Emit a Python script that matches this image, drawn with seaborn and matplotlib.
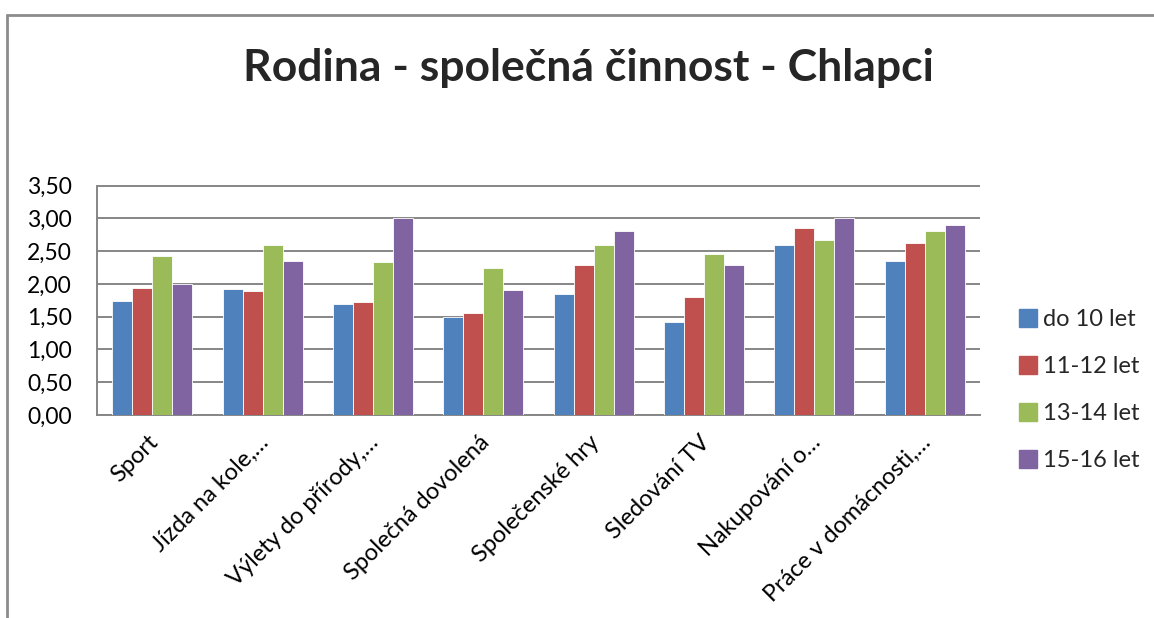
import matplotlib
matplotlib.use('Agg')

import matplotlib.pyplot as plt
import matplotlib.transforms as mtransforms
import seaborn as sns
import pandas as pd
from matplotlib.lines import Line2D
from matplotlib.ticker import FuncFormatter

categories = ['Sport', 'Jízda na kole,…', 'Výlety do přírody,…', 'Společná dovolená',
              'Společenské hry', 'Sledování TV', 'Nakupování o…', 'Práce v domácnosti,…']
groups = ['do 10 let', '11-12 let', '13-14 let', '15-16 let']
do_10 = [1.74, 1.92, 1.70, 1.50, 1.85, 1.42, 2.59, 2.35]
let_11_12 = [1.94, 1.89, 1.73, 1.55, 2.28, 1.80, 2.85, 2.62]
let_13_14 = [2.43, 2.59, 2.34, 2.24, 2.60, 2.45, 2.67, 2.80]
let_15_16 = [2.00, 2.35, 3.00, 1.90, 2.81, 2.28, 3.00, 2.90]
colors = ['#4F81BD', '#C0504D', '#9BBB59', '#8064A2']

rows = []
for g, vals in zip(groups, [do_10, let_11_12, let_13_14, let_15_16]):
    for c, v in zip(categories, vals):
        rows.append({'kategorie': c, 'skupina': g, 'hodnota': v})
df = pd.DataFrame(rows)

sns.set_style('white')
plt.rcParams['font.family'] = ['Lato', 'DejaVu Sans']

fig = plt.figure(figsize=(11.54, 6.18), dpi=100)
ax = fig.add_axes([97 / 1154, 1 - 415 / 618, (980 - 97) / 1154, (415 - 185.5) / 618])

sns.barplot(data=df, x='kategorie', y='hodnota', hue='skupina', order=categories,
            hue_order=groups, palette=colors, width=0.725, gap=0,
            edgecolor='white', linewidth=0.6, saturation=1, legend=False, ax=ax, zorder=3)

ax.set_ylim(0, 3.5)
ax.set_yticks([0, 0.5, 1.0, 1.5, 2.0, 2.5, 3.0, 3.5])
ax.yaxis.set_major_formatter(FuncFormatter(lambda v, p: f'{v:.2f}'.replace('.', ',')))
ax.set_xlim(-0.5, len(categories) - 0.5)
ax.grid(axis='y', color='#868686', linewidth=1.4, zorder=0)
ax.set_axisbelow(True)
for s in ['top', 'right']:
    ax.spines[s].set_visible(False)
for s in ['left', 'bottom']:
    ax.spines[s].set_color('#868686')
    ax.spines[s].set_linewidth(1.4)
ax.set_xlabel('')
ax.set_ylabel('')
ax.tick_params(axis='y', length=0, pad=18, labelsize=16.5, labelcolor='black')
ax.tick_params(axis='x', length=0, pad=12, labelsize=17, labelcolor='black')
shift = mtransforms.ScaledTranslation(-5 / 100, 0, fig.dpi_scale_trans)
for lbl in ax.get_xticklabels():
    lbl.set_rotation(45)
    lbl.set_ha('right')
    lbl.set_va('top')
    lbl.set_rotation_mode('anchor')
    lbl.set_transform(lbl.get_transform() + shift)

fig.text(0.5095, 1 - 68 / 618, 'Rodina - společná činnost - Chlapci', ha='center', va='center',
         fontsize=32, fontweight='bold')

handles = [Line2D([], [], marker='s', linestyle='', markersize=12.5, color=c) for c in colors]
fig.legend(handles, groups, loc='center left', bbox_to_anchor=(1019 / 1154, 1 - 390 / 618),
           frameon=False, fontsize=17, handlelength=0.8, handletextpad=0.22, labelspacing=1.1,
           borderpad=0, borderaxespad=0)

# chart frame (top and left edges)
fig.add_artist(Line2D([7 / 1154, 7 / 1154], [0, 1 - 15 / 618], color='#8c8c8c', linewidth=2))
fig.add_artist(Line2D([7 / 1154, 1], [1 - 15 / 618, 1 - 15 / 618], color='#8c8c8c', linewidth=2))

fig.savefig('out.png', dpi=100)
